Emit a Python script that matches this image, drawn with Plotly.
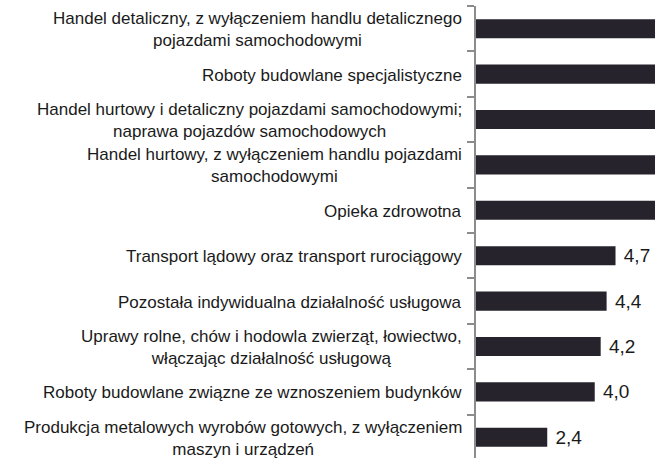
import plotly.graph_objects as go

categories = [
    "Handel detaliczny, z wyłączeniem handlu detalicznego<br>pojazdami samochodowymi",
    "Roboty budowlane specjalistyczne",
    "Handel hurtowy i detaliczny pojazdami samochodowymi;<br>naprawa pojazdów samochodowych",
    "Handel hurtowy, z wyłączeniem handlu pojazdami<br>samochodowymi",
    "Opieka zdrowotna",
    "Transport lądowy oraz transport rurociągowy",
    "Pozostała indywidualna działalność usługowa",
    "Uprawy rolne, chów i hodowla zwierząt, łowiectwo,<br>włączając działalność usługową",
    "Roboty budowlane związne ze wznoszeniem budynków",
    "Produkcja metalowych wyrobów gotowych, z wyłączeniem<br>maszyn i urządzeń",
]
values = [11.5, 9.0, 7.8, 7.0, 6.3, 4.7, 4.4, 4.2, 4.0, 2.4]

x_max = 6.03
labels = [" " + f"{v:.1f}".replace(".", ",") for v in values]
positions = ["outside" if v < x_max else "none" for v in values]

fig = go.Figure()
fig.add_trace(go.Bar(
    y=list(range(len(categories))),
    x=values,
    orientation="h",
    width=0.42,
    marker=dict(color="#26232d", line=dict(width=0)),
    text=labels,
    textposition=positions,
    constraintext="none",
    textfont=dict(family="Liberation Sans, Arial", size=19, color="#1a1a1a"),
    cliponaxis=True,
    hoverinfo="skip",
))

for i, c in enumerate(categories):
    fig.add_annotation(
        x=0, xref="paper", xanchor="right", xshift=-12,
        y=i, yref="y", yanchor="middle", yshift=-1,
        text=c, showarrow=False, align="center",
        font=dict(family="Liberation Sans, Arial", size=17, color="#1a1a1a"),
    )

fig.update_layout(
    width=655, height=458,
    margin=dict(l=476, r=0, t=6, b=0),
    plot_bgcolor="white", paper_bgcolor="white",
    showlegend=False,
    xaxis=dict(range=[0, x_max], showgrid=False, zeroline=False,
               showline=False, showticklabels=False, ticks=""),
    yaxis=dict(range=[9.456, -0.5], showgrid=False, zeroline=False,
               showline=True, linecolor="#8c8c8c", linewidth=2,
               ticks="outside", ticklen=7, tickwidth=2, tickcolor="#8c8c8c",
               tickmode="array", tickvals=[i - 0.5 for i in range(len(categories) + 1)],
               showticklabels=False),
)

fig.write_html(
    "out.html",
    config={"displayModeBar": False},
    post_script="document.body.style.margin='0';document.body.style.overflow='hidden';",
)
